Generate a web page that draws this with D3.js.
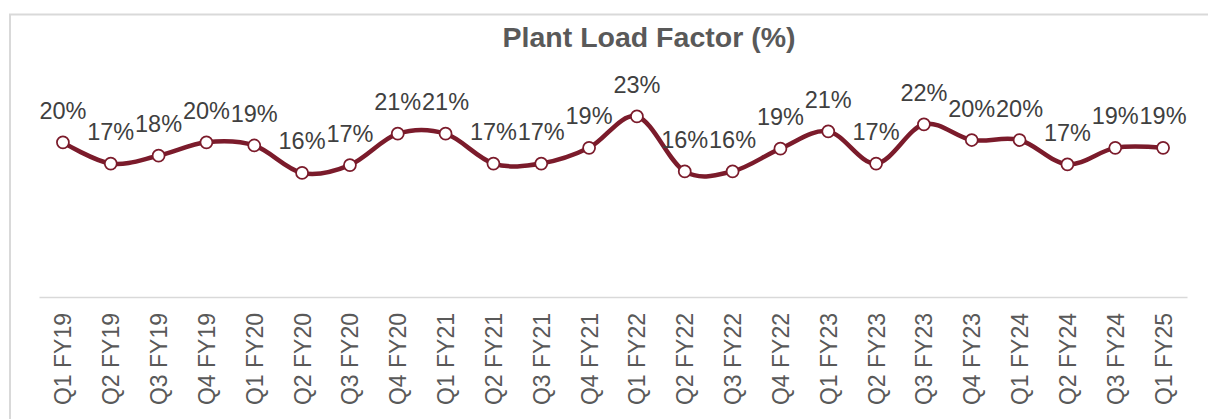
<!DOCTYPE html>
<html>
<head>
<meta charset="utf-8">
<script src="https://cdn.jsdelivr.net/npm/d3@7"></script>
<style>
  html, body { margin: 0; padding: 0; background: #fff; }
  svg { display: block; }
</style>
</head>
<body>
<svg id="chart" width="1208" height="419"></svg>
<script>
// Quarterly plant load factor, percent
const quarters = [
  "Q1 FY19", "Q2 FY19", "Q3 FY19", "Q4 FY19",
  "Q1 FY20", "Q2 FY20", "Q3 FY20", "Q4 FY20",
  "Q1 FY21", "Q2 FY21", "Q3 FY21", "Q4 FY21",
  "Q1 FY22", "Q2 FY22", "Q3 FY22", "Q4 FY22",
  "Q1 FY23", "Q2 FY23", "Q3 FY23", "Q4 FY23",
  "Q1 FY24", "Q2 FY24", "Q3 FY24", "Q1 FY25"
];
const plf = [
  19.7, 17.0, 18.0, 19.7,
  19.3, 15.8, 16.8, 20.8,
  20.8, 17.0, 17.0, 19.0,
  23.0, 16.0, 16.0, 18.9,
  21.1, 17.0, 22.0, 20.0,
  20.0, 16.9, 19.0, 19.0
];
const yDomain = [0, 30];
const title = "Plant Load Factor (%)";

const svg = d3.select("#chart");
const W = 1208, H = 419;
const plot = { left: 39, right: 1187, top: 61.5, bottom: 297 };
const font = "Liberation Sans, Arial, sans-serif";

// chart frame
svg.append("rect")
  .attr("x", 10).attr("y", 14.5)
  .attr("width", W + 20).attr("height", H + 20)
  .attr("fill", "#fff")
  .attr("stroke", "#D9D9D9").attr("stroke-width", 2);

// title
svg.append("text")
  .attr("x", 649).attr("y", 46.5)
  .attr("text-anchor", "middle")
  .attr("font-family", font)
  .attr("font-weight", "bold")
  .attr("font-size", 28.5)
  .attr("fill", "#595959")
  .text(title);

const x = d3.scaleBand().domain(quarters).range([plot.left, plot.right]).padding(0);
const y = d3.scaleLinear().domain(yDomain).range([plot.bottom, plot.top]);
const cx = d => x(d) + x.bandwidth() / 2;

// category axis
const xAxis = d3.axisBottom(x).tickSize(0).tickPadding(0);
const gx = svg.append("g")
  .attr("transform", `translate(0,${plot.bottom})`)
  .call(xAxis);
gx.select(".domain").attr("stroke", "#D9D9D9").attr("stroke-width", 1.5);
gx.selectAll(".tick text")
  .attr("font-family", font)
  .attr("font-size", 23)
  .attr("fill", "#595959")
  .attr("text-anchor", "end")
  .attr("dy", null)
  .attr("transform", "translate(8.5,16) rotate(-90)")
  .attr("x", 0).attr("y", 0);

const pts = quarters.map((q, i) => ({ q, v: plf[i] }));

// smoothed series line
const line = d3.line()
  .x(d => cx(d.q))
  .y(d => y(d.v))
  .curve(d3.curveCatmullRom.alpha(0));

svg.append("path")
  .datum(pts)
  .attr("d", line)
  .attr("fill", "none")
  .attr("stroke", "#7B1B2B")
  .attr("stroke-width", 4.5)
  .attr("stroke-linejoin", "round")
  .attr("stroke-linecap", "round");

// markers
svg.append("g").selectAll("circle")
  .data(pts)
  .join("circle")
  .attr("cx", d => cx(d.q))
  .attr("cy", d => y(d.v))
  .attr("r", 6)
  .attr("fill", "#fff")
  .attr("stroke", "#7B1B2B")
  .attr("stroke-width", 1.75);

// value labels
svg.append("g").selectAll("text")
  .data(pts)
  .join("text")
  .attr("x", d => cx(d.q))
  .attr("y", d => y(d.v) - 23.5)
  .attr("text-anchor", "middle")
  .attr("font-family", font)
  .attr("font-size", 23.5)
  .attr("fill", "#404040")
  .text(d => Math.round(d.v) + "%");
</script>
</body>
</html>
